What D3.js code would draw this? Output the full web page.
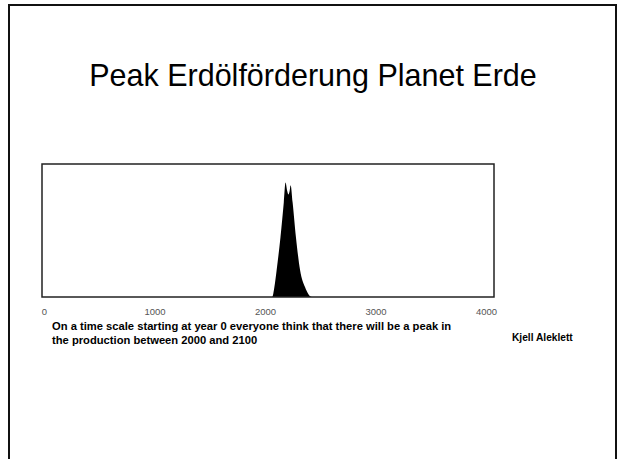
<!DOCTYPE html>
<html><head><meta charset="utf-8">
<script src="https://cdn.jsdelivr.net/npm/d3@7"></script>
<style>html,body{margin:0;padding:0;background:#fff;}svg{display:block;}</style>
</head><body>
<svg id="c" width="621" height="459"></svg>
<script>
const title = "Peak Erdölförderung Planet Erde";
const years = [0, 1900, 2065, 2085, 2105, 2140, 2170, 2186, 2200, 2212, 2224, 2232, 2250, 2280, 2318, 2362, 2425, 4000];
const production = [0, 0, 0, 7.5, 20, 45, 71, 86, 80, 77, 80, 84, 71, 45, 20, 7.5, 0, 0];
const tickValues = [0, 1000, 2000, 3000, 4000];
const captionLines = ["On a time scale starting at year 0 everyone think that there will be a peak in", "the production between 2000 and 2100"];
const author = "Kjell Aleklett";

const svg = d3.select("#c");
svg.append("rect").attr("x", 9).attr("y", 5).attr("width", 607).attr("height", 470)
  .attr("fill", "none").attr("stroke", "#111").attr("stroke-width", 2);

svg.append("text").attr("x", 313).attr("y", 86).attr("text-anchor", "middle")
  .attr("font-family", "Liberation Sans, Arial, sans-serif").attr("font-size", 30.5)
  .attr("fill", "#000").text(title);

const box = {x0: 42, x1: 494, y0: 164, y1: 297};
const x = d3.scaleLinear().domain([0, 4000]).range([44, 486]);
const y = d3.scaleLinear().domain([0, 100]).range([box.y1, box.y0]);

const data = years.map((yr, i) => ({yr, v: production[i]}));
const area = d3.area().x(d => x(d.yr)).y0(y(0)).y1(d => y(d.v)).curve(d3.curveMonotoneX);
svg.append("path").datum(data).attr("d", area).attr("fill", "#000");

svg.append("rect").attr("x", box.x0).attr("y", box.y0).attr("width", box.x1 - box.x0).attr("height", box.y1 - box.y0)
  .attr("fill", "none").attr("stroke", "#222").attr("stroke-width", 1.5);

const axis = d3.axisBottom(x).tickValues(tickValues).tickSize(0).tickPadding(0).tickFormat(d3.format("d"));
const ag = svg.append("g").attr("transform", `translate(0,${box.y1 + 11})`).call(axis);
ag.select(".domain").remove();
ag.selectAll("text").attr("font-family", "Liberation Sans, Arial, sans-serif").attr("font-size", 9.5).attr("fill", "#555");

const cap = svg.append("text").attr("font-family", "Liberation Sans, Arial, sans-serif")
  .attr("font-size", 11.2).attr("font-weight", "bold").attr("fill", "#000");
captionLines.forEach((l, i) => cap.append("tspan").attr("x", 52).attr("y", 330 + i * 13.5).text(l));

svg.append("text").attr("x", 512).attr("y", 341).attr("font-family", "Liberation Sans, Arial, sans-serif")
  .attr("font-size", 10.2).attr("font-weight", "bold").attr("fill", "#000").text(author);
</script>
</body></html>
